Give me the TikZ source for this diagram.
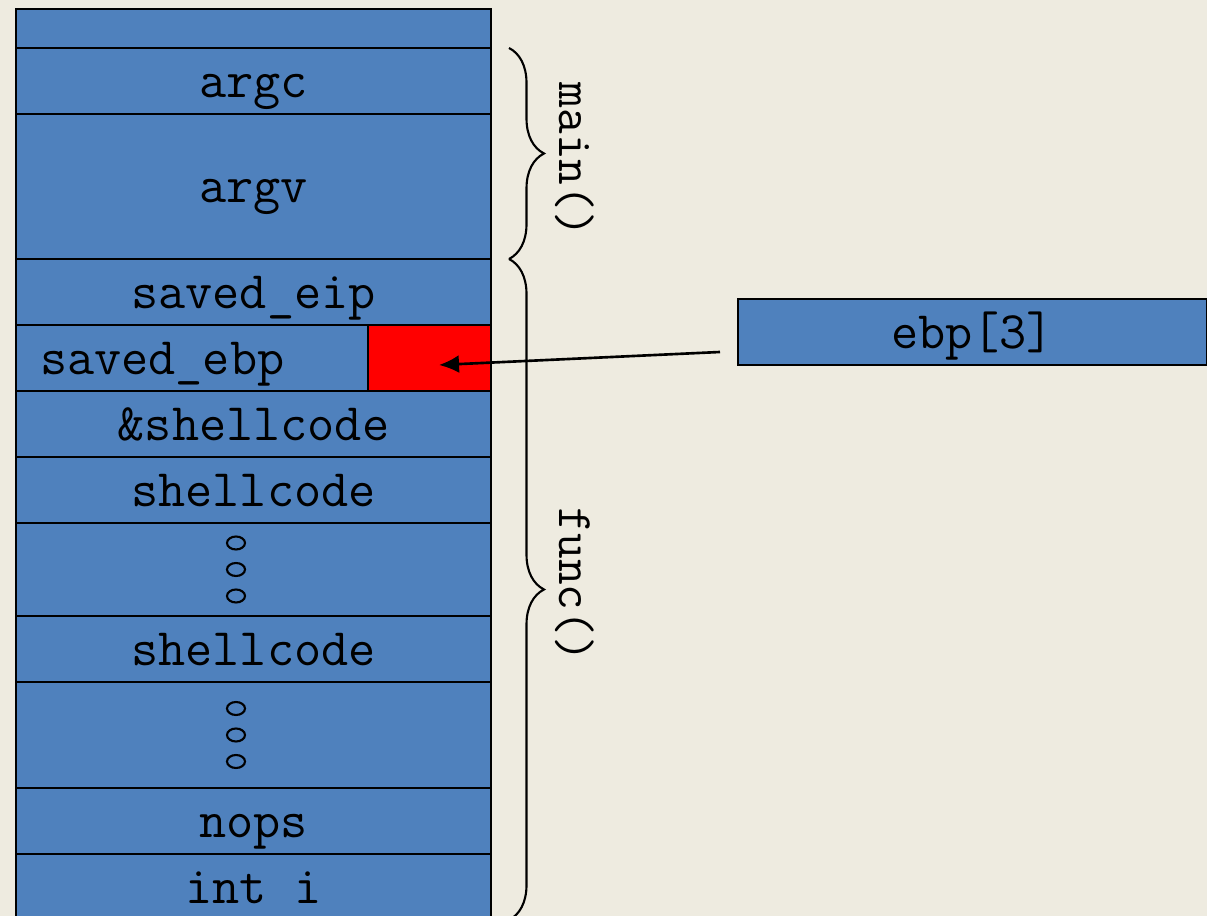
\documentclass[tikz,border=0pt]{standalone}
\usetikzlibrary{positioning,arrows.meta,decorations.pathreplacing}
\definecolor{stackblue}{HTML}{4F81BD}
\definecolor{slidebg}{HTML}{EEEBE0}

\begin{document}
\begin{tikzpicture}[x=1cm,y=1cm,>={Latex[length=2mm,width=1.8mm]},font=\ttfamily\fontsize{15}{17}\selectfont,
  cell/.style={draw,line width=0.6pt,fill=stackblue,minimum width=4.75cm,minimum height=0.66cm,inner sep=0pt,outer sep=0pt,text height=4.4mm,text depth=1.1mm},
  brc/.style={decorate,decoration={brace,amplitude=0.35cm},line width=0.6pt}]
  \fill[slidebg] (0,0) rectangle (12.07,-9.16);
  \clip (0,0) rectangle (12.07,-9.16);
  % stack
  \node[cell,minimum height=0.39cm,text height=0pt,text depth=0pt] (top) at (2.535,-0.285) {};
  \node[cell,below=0pt of top] (argc) {argc};
  \node[cell,below=0pt of argc,minimum height=1.45cm] (argv) {argv};
  \node[cell,below=0pt of argv] (eip) {saved\_eip};
  \node[cell,below=0pt of eip.south west,anchor=north west,minimum width=3.52cm,text width=3.04cm,inner xsep=0.24cm,align=left] (ebpcell) {saved\_ebp};
  \node[cell,right=0pt of ebpcell,minimum width=1.23cm,fill=red] (slot) {};
  \node[cell,below=0.66cm of eip] (amp) {\&shellcode};
  \node[cell,below=0pt of amp] (sca) {shellcode};
  \node[cell,below=0pt of sca,minimum height=0.93cm] (dotsa) {};
  \node[cell,below=0pt of dotsa] (scb) {shellcode};
  \node[cell,below=0pt of scb,minimum height=1.06cm] (dotsb) {};
  \node[cell,below=0pt of dotsb] (nops) {nops};
  \node[cell,below=0pt of nops] (inti) {int i};
  \foreach \c in {dotsa,dotsb}
    \foreach \dy in {-0.265,0,0.265}
      \draw[line width=0.6pt] ([shift={(-0.175,\dy)}]\c.center) ellipse (0.09 and 0.065);
  % frames
  \draw[brc] ([xshift=1.8mm]argc.north east) -- ([xshift=1.8mm]argv.south east);
  \draw[brc] ([xshift=1.8mm]eip.north east) -- ([xshift=1.8mm]inti.south east);
  \node[rotate=-90,font=\ttfamily\fontsize{14.2}{16}\selectfont] (mainlbl) at (5.75,-1.60) {main()};
  \node[rotate=-90,font=\ttfamily\fontsize{14.2}{16}\selectfont] (funclbl) at (5.75,-5.85) {func()};
  % pointer
  \node[cell,minimum width=4.69cm] (ebp) at (9.725,-3.32) {ebp[3]};
  \draw[->,line width=0.75pt] ([shift={(-0.18,-0.20)}]ebp.west) -- ([shift={(0.095,-0.07)}]slot.center);
\end{tikzpicture}
\end{document}
